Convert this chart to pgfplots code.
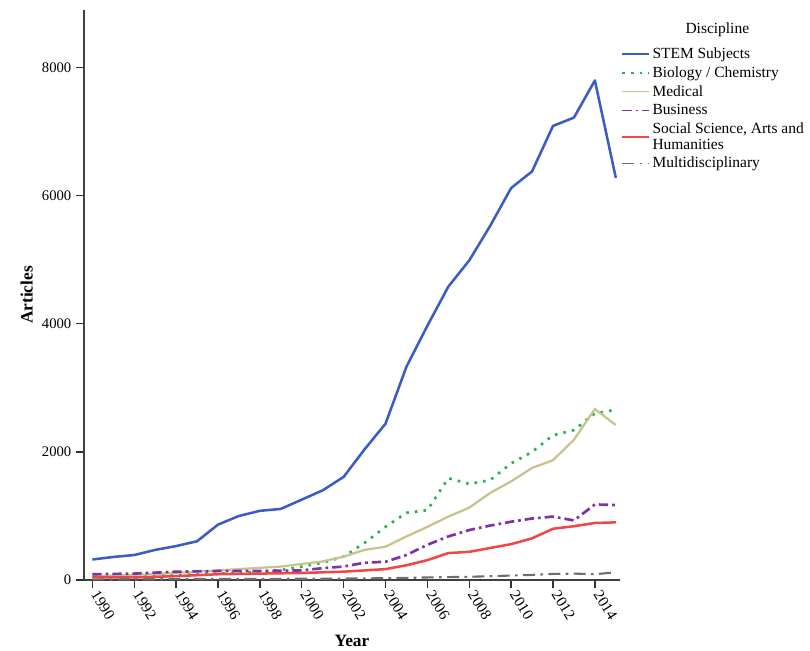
\documentclass[border=0pt]{standalone}
\usepackage{fontspec}
\setmainfont{Liberation Serif}
\usepackage{pgfplots}
\pgfplotsset{compat=1.18}
\definecolor{stem}{RGB}{58,92,200}
\definecolor{bio}{RGB}{40,180,80}
\definecolor{med}{RGB}{200,195,140}
\definecolor{bus}{RGB}{125,50,170}
\definecolor{soc}{RGB}{240,70,70}
\definecolor{mul}{RGB}{110,110,110}
\begin{document}
\begin{tikzpicture}[x=0.75pt,y=0.75pt]
\path[use as bounding box] (-84,-70) rectangle (726,580);
\begin{axis}[
  at={(0,0)}, anchor=south west,
  scale only axis,
  width=402pt, height=427.5pt,
  xmin=1989.6, xmax=2015.2,
  ymin=0, ymax=8900,
  axis lines=left,
  axis line style={-, black!75, line width=0.8pt},
  xtick={1990,1992,...,2014},
  ytick={0,2000,4000,6000,8000},
  tick align=outside,
  tick style={black!80, line width=1pt},
  major tick length=6pt,
  x tick label style={rotate=-58, anchor=west, font=\fontsize{11.5}{12}\selectfont},
  y tick label style={font=\fontsize{11}{12}\selectfont},
  /pgf/number format/assume math mode=true,
  xticklabel={\pgfmathprintnumber[1000 sep=]{\tick}},
  yticklabel={\pgfmathprintnumber[1000 sep=]{\tick}},
  xlabel={\textbf{Year}},
  ylabel={\textbf{Articles}},
  xlabel style={font=\fontsize{13}{14}\selectfont, at={(axis description cs:0.5,0)}, anchor=north, yshift=-38pt},
  ylabel style={font=\fontsize{13}{14}\selectfont},
  clip=false,
  legend style={at={(rel axis cs:1,1)}, anchor=north west, xshift=0pt, yshift=-25pt,
    draw=none, fill=none, font=\fontsize{11.6}{11.8}\selectfont, cells={anchor=west, align=left},
    row sep=0.6pt, inner sep=1pt},
  legend image code/.code={\draw[#1, line width=1.2pt] (0pt,0pt) -- (20pt,0pt);},
  every axis plot/.append style={line join=round},
]
\addplot[stem, line width=1.9pt] coordinates {
(1990,320)(1991,360)(1992,390)(1993,470)(1994,530)(1995,605)(1996,865)(1997,1000)(1998,1080)(1999,1110)
(2000,1255)(2001,1400)(2002,1610)(2003,2040)(2004,2440)(2005,3330)(2006,3970)(2007,4580)(2008,4990)(2009,5530)
(2010,6120)(2011,6380)(2012,7090)(2013,7220)(2014,7800)(2015,6280)};
\addlegendentry{STEM Subjects}
\addplot[bio, line width=2pt, dash pattern=on 2pt off 4.5pt] coordinates {
(1990,50)(1991,50)(1992,50)(1993,75)(1994,90)(1995,95)(1996,100)(1997,115)(1998,130)(1999,155)
(2000,210)(2001,270)(2002,365)(2003,580)(2004,830)(2005,1050)(2006,1090)(2007,1590)(2008,1500)(2009,1560)
(2010,1820)(2011,2000)(2012,2260)(2013,2340)(2014,2600)(2015,2660)};
\addlegendentry{Biology / Chemistry}
\addplot[med, line width=1.7pt] coordinates {
(1990,60)(1991,70)(1992,80)(1993,95)(1994,110)(1995,130)(1996,150)(1997,170)(1998,190)(1999,210)
(2000,250)(2001,290)(2002,365)(2003,470)(2004,520)(2005,680)(2006,830)(2007,990)(2008,1130)(2009,1360)
(2010,1540)(2011,1750)(2012,1870)(2013,2190)(2014,2670)(2015,2420)};
\addlegendentry{Medical}
\addplot[bus, line width=2pt, dash pattern=on 7pt off 3pt on 2pt off 3pt] coordinates {
(1990,90)(1991,95)(1992,100)(1993,115)(1994,130)(1995,135)(1996,140)(1997,140)(1998,140)(1999,145)
(2000,150)(2001,185)(2002,210)(2003,270)(2004,285)(2005,390)(2006,550)(2007,680)(2008,780)(2009,850)
(2010,910)(2011,960)(2012,990)(2013,930)(2014,1180)(2015,1170)};
\addlegendentry{Business}
\addplot[soc, line width=1.9pt] coordinates {
(1990,45)(1991,40)(1992,40)(1993,50)(1994,60)(1995,75)(1996,90)(1997,95)(1998,100)(1999,105)
(2000,110)(2001,120)(2002,130)(2003,150)(2004,170)(2005,230)(2006,310)(2007,420)(2008,440)(2009,500)
(2010,560)(2011,650)(2012,800)(2013,840)(2014,890)(2015,900)};
\addlegendentry{Social Science, Arts and\\Humanities}
\addplot[mul, line width=1.6pt, dash pattern=on 9pt off 4pt on 2pt off 4pt] coordinates {
(1990,10)(1991,10)(1992,12)(1993,12)(1994,14)(1995,15)(1996,15)(1997,16)(1998,17)(1999,18)
(2000,20)(2001,20)(2002,22)(2003,25)(2004,28)(2005,32)(2006,40)(2007,45)(2008,50)(2009,60)
(2010,70)(2011,80)(2012,95)(2013,100)(2014,90)(2015,120)};
\addlegendentry{Multidisciplinary}
\node[font=\fontsize{11.6}{12}\selectfont, anchor=south] at ([xshift=73pt,yshift=-24pt]rel axis cs:1,1) {Discipline};
\end{axis}
\end{tikzpicture}
\end{document}
